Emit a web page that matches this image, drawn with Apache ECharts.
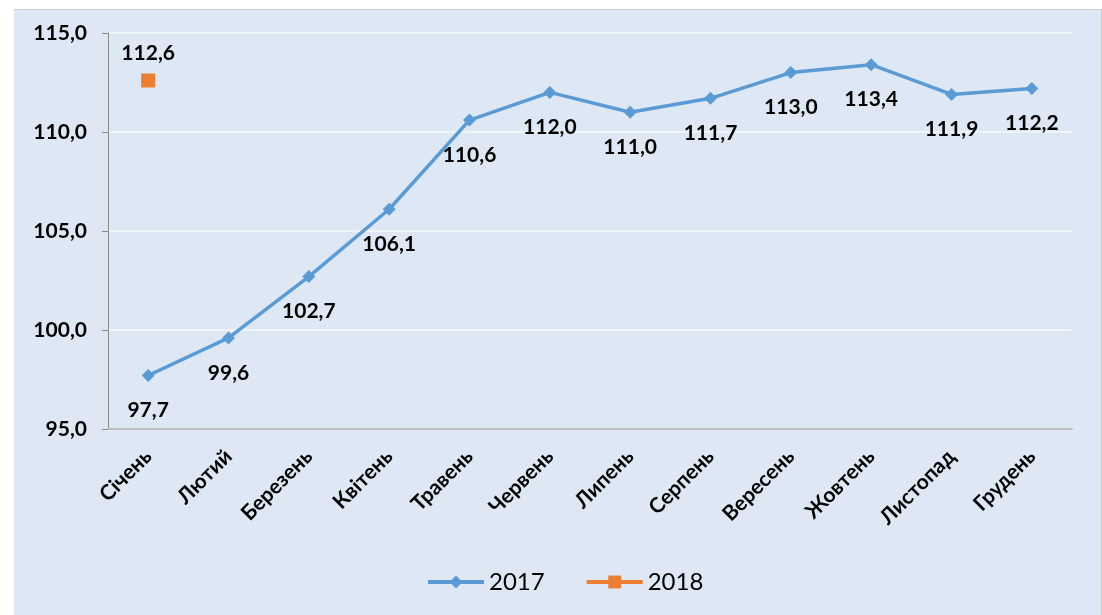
<!DOCTYPE html>
<html>
<head>
<meta charset="utf-8">
<script src="https://cdn.jsdelivr.net/npm/echarts@6/dist/echarts.min.js"></script>
<style>
html,body{margin:0;padding:0;background:#ffffff;}
#wrap{position:absolute;left:14px;top:9px;width:1087px;height:606px;background:#dde8f4;border-right:1px solid #c8c8c8;border-top:1px solid #d0d0d0;}
#chart{position:absolute;left:0;top:0;width:1102px;height:615px;}
</style>
</head>
<body>
<div id="wrap"></div>
<div id="chart"></div>
<script>
const categories = ['Січень','Лютий','Березень','Квітень','Травень','Червень','Липень','Серпень','Вересень','Жовтень','Листопад','Грудень'];
const values2017 = [97.7, 99.6, 102.7, 106.1, 110.6, 112.0, 111.0, 111.7, 113.0, 113.4, 111.9, 112.2];
const values2018 = [112.6, null, null, null, null, null, null, null, null, null, null, null];
const yTicks = {min: 95, max: 115, interval: 5};

const FONT = 'Lato, "Noto Sans", sans-serif';
const fmt = v => v.toFixed(1).replace('.', ',');

const chart = echarts.init(document.getElementById('chart'), null, {renderer: 'canvas'});
chart.setOption({
  backgroundColor: 'transparent',
  animation: false,
  grid: {left: 108, right: 30, top: 33, bottom: 186, containLabel: false},
  legend: {
    top: 565, left: 421,
    itemWidth: 56, itemHeight: 16, itemGap: 40,
    lineStyle: {width: 4},
    textStyle: {fontFamily: FONT, fontSize: 24, color: '#000'},
    data: ['2017', '2018']
  },
  xAxis: {
    type: 'category',
    data: categories,
    boundaryGap: true,
    axisLine: {lineStyle: {color: '#bfbfbf', width: 2}},
    axisTick: {show: false},
    axisLabel: {rotate: 45, fontFamily: FONT, fontSize: 21, fontWeight: 'bold', color: '#000', margin: 24, interval: 0}
  },
  yAxis: {
    type: 'value',
    min: yTicks.min, max: yTicks.max, interval: yTicks.interval,
    axisLine: {show: true, lineStyle: {color: '#8c8c8c', width: 1}},
    axisTick: {show: true, length: 6, lineStyle: {color: '#8c8c8c'}},
    splitLine: {lineStyle: {color: '#f0f4f8', width: 2}},
    axisLabel: {fontFamily: FONT, fontSize: 21, fontWeight: 'bold', color: '#000', margin: 21, formatter: v => fmt(v)}
  },
  series: [
    {
      name: '2017', type: 'line', data: values2017,
      symbol: 'diamond', symbolSize: 13,
      lineStyle: {color: '#5b9bd5', width: 3.5},
      itemStyle: {color: '#5b9bd5'},
      label: {show: true, position: 'bottom', distance: 18, fontFamily: FONT, fontSize: 21, fontWeight: 'bold', color: '#000', formatter: p => fmt(p.value)}
    },
    {
      name: '2018', type: 'line', data: values2018,
      symbol: 'rect', symbolSize: 14,
      lineStyle: {color: '#ed7d31', width: 3.5},
      itemStyle: {color: '#ed7d31'},
      label: {show: true, position: 'top', distance: 10, fontFamily: FONT, fontSize: 21, fontWeight: 'bold', color: '#000', formatter: p => fmt(p.value)}
    }
  ]
});
</script>
</body>
</html>
